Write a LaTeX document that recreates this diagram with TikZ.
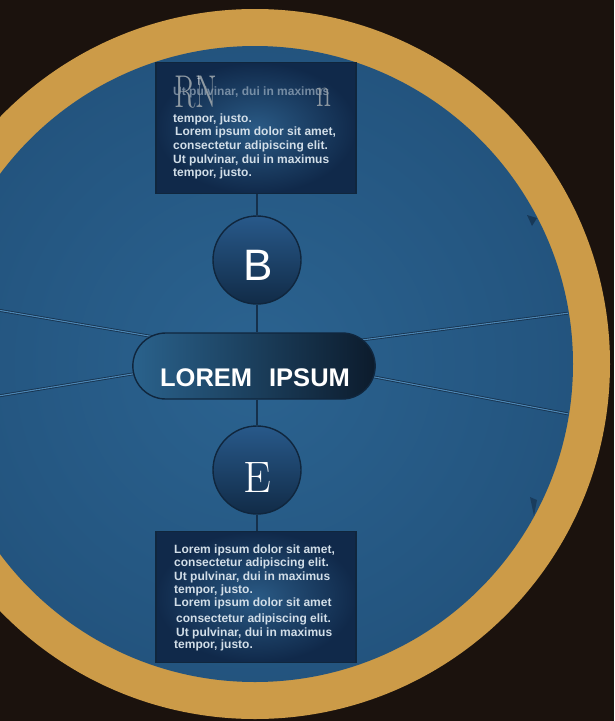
\documentclass[tikz,border=0pt]{standalone}
\usepackage{fontspec}
\newfontfamily\lsans{Liberation Sans}
\usetikzlibrary{shapes.misc,calc}
\definecolor{bgbrown}{HTML}{1B120D}
\definecolor{gold}{HTML}{CC9B48}
\definecolor{discA}{HTML}{2B6390}
\definecolor{discB}{HTML}{22527C}
\definecolor{discC}{HTML}{163A5F}
\definecolor{edgedark}{HTML}{10263D}
\definecolor{raydark}{HTML}{15304B}
\definecolor{raylight}{HTML}{4C86B4}
\definecolor{boxin}{HTML}{2A5A85}
\definecolor{boxout}{HTML}{10294A}
\definecolor{pillL}{HTML}{2A628C}
\definecolor{pillM}{HTML}{1C4266}
\definecolor{pillR}{HTML}{0C1B2C}
\definecolor{bubtop}{HTML}{28598A}
\definecolor{bubbot}{HTML}{112B47}
\definecolor{smalltext}{HTML}{D2DEE8}
\definecolor{ghost}{HTML}{8E99A2}
\pgfdeclareradialshading{bluedisc}{\pgfpoint{0bp}{0bp}}{color(0bp)=(discA); color(28bp)=(discB); color(50bp)=(discC); color(100bp)=(discC)}
\pgfdeclarelayer{back}
\pgfdeclarelayer{mid}
\pgfsetlayers{back,mid,main}
\begin{document}
\begin{tikzpicture}[x=1pt,y=-1pt,
  textbox/.style={rectangle, minimum width=200pt, minimum height=131pt, draw=edgedark, line width=1.2pt, inner color=boxin, outer color=boxout},
  bubble/.style={circle, minimum size=88pt, inner sep=0pt, draw=edgedark, line width=1.4pt, top color=bubtop, bottom color=bubbot},
  pill/.style={rounded rectangle, minimum width=249pt, minimum height=66pt, draw=edgedark, line width=1.4pt, left color=pillL, middle color=pillM, right color=pillR},
  pilltext/.style={text=white, font=\lsans\bfseries\fontsize{25.5}{30}\selectfont, inner sep=0pt},
  bigletter/.style={text=white, inner sep=0pt},
  conn/.style={draw=raydark, line width=2.4pt},
  ray/.style={draw=raydark, line width=0.8pt, double=raylight, double distance=1.1pt},
  blurb/.style={text=smalltext, anchor=west, inner sep=0pt, font=\lsans\bfseries\fontsize{12}{13}\selectfont},
  ghostrm/.style={text=ghost, inner sep=0pt, anchor=base west}
]
\useasboundingbox (0,0) rectangle (614,721);
\begin{pgfonlayer}{back}
  \fill[bgbrown] (0,0) rectangle (614,721);
  \fill[gold] (255,364) circle[radius=355pt];
  \shade[shading=bluedisc] (255,364) circle[radius=318pt];
  \fill[edgedark, opacity=.6] (527,215) -- (537,218) -- (532,226) -- cycle;
  \fill[edgedark, opacity=.5] (530,497) -- (537,500) -- (534,516) -- cycle;
\end{pgfonlayer}

\node[textbox] (top) at (256,128) {};
\node[textbox] (bot) at (256,597) {};
\node[bubble] (B) at (257,260) {};
\node[bubble] (E) at (257,470) {};
\node[pill] (pill) at (254,366) {};
\node[pilltext] (ptxt) at (255,378) {LOREM\hspace{17pt}IPSUM};
\node[bigletter, font=\lsans\fontsize{44}{44}\selectfont] (Bl) at (258,265) {B};
\node[bigletter, font=\fontsize{44}{44}\selectfont] (El) at (257,478) {E};

\draw[conn] (top.south -| B) -- (B.north);
\draw[conn] (B.south) -- (B.south |- pill.north);
\draw[conn] (E.north |- pill.south) -- (E.north);
\draw[conn] (E.south) -- (bot.north -| E);

\begin{pgfonlayer}{mid}
  \begin{scope}
    \clip (255,364) circle[radius=317pt];
    \coordinate (hub) at ($(pill.center)+(0,-12)$);
    \coordinate (L1) at (-20,307);
    \coordinate (L2) at (-20,399);
    \coordinate (R1) at (600,309);
    \coordinate (R2) at (600,420);
    \draw[ray] (hub) -- (L1);
    \draw[ray] (hub) -- (L2);
    \draw[ray] (hub) -- (R1);
    \draw[ray] (hub) -- (R2);
  \end{scope}
\end{pgfonlayer}

% top box text
\node[blurb, opacity=.5] (t0) at (173,92) {Ut pulvinar, dui in maximus};
\node[blurb] (t1) at (173,119) {tempor, justo.};
\node[blurb] (t2) at (175,132) {Lorem ipsum dolor sit amet,};
\node[blurb] (t3) at (173,146) {consectetur adipiscing elit.};
\node[blurb] (t4) at (173,160) {Ut pulvinar, dui in maximus};
\node[blurb] (t5) at (173,173) {tempor, justo.};
\node[ghostrm, font=\fontsize{46}{46}\selectfont, xscale=.68] (rn) at (174,107) {RN};
\node[ghostrm, font=\fontsize{42}{42}\selectfont, xscale=.7] (nn) at (316,106) {n};
\node[ghostrm, text=white!85!ghost, font=\fontsize{16}{16}\selectfont, xscale=.7] (tt) at (197,85) {t};

% bottom box text
\node[blurb] (b1) at (174,550) {Lorem ipsum dolor sit amet,};
\node[blurb] (b2) at (174,563) {consectetur adipiscing elit.};
\node[blurb] (b3) at (174,577) {Ut pulvinar, dui in maximus};
\node[blurb] (b4) at (174,590) {tempor, justo.};
\node[blurb] (b5) at (174,603) {Lorem ipsum dolor sit amet};
\node[blurb] (b6) at (176,619) {consectetur adipiscing elit.};
\node[blurb] (b7) at (176,633) {Ut pulvinar, dui in maximus};
\node[blurb] (b8) at (174,645) {tempor, justo.};
\end{tikzpicture}
\end{document}
